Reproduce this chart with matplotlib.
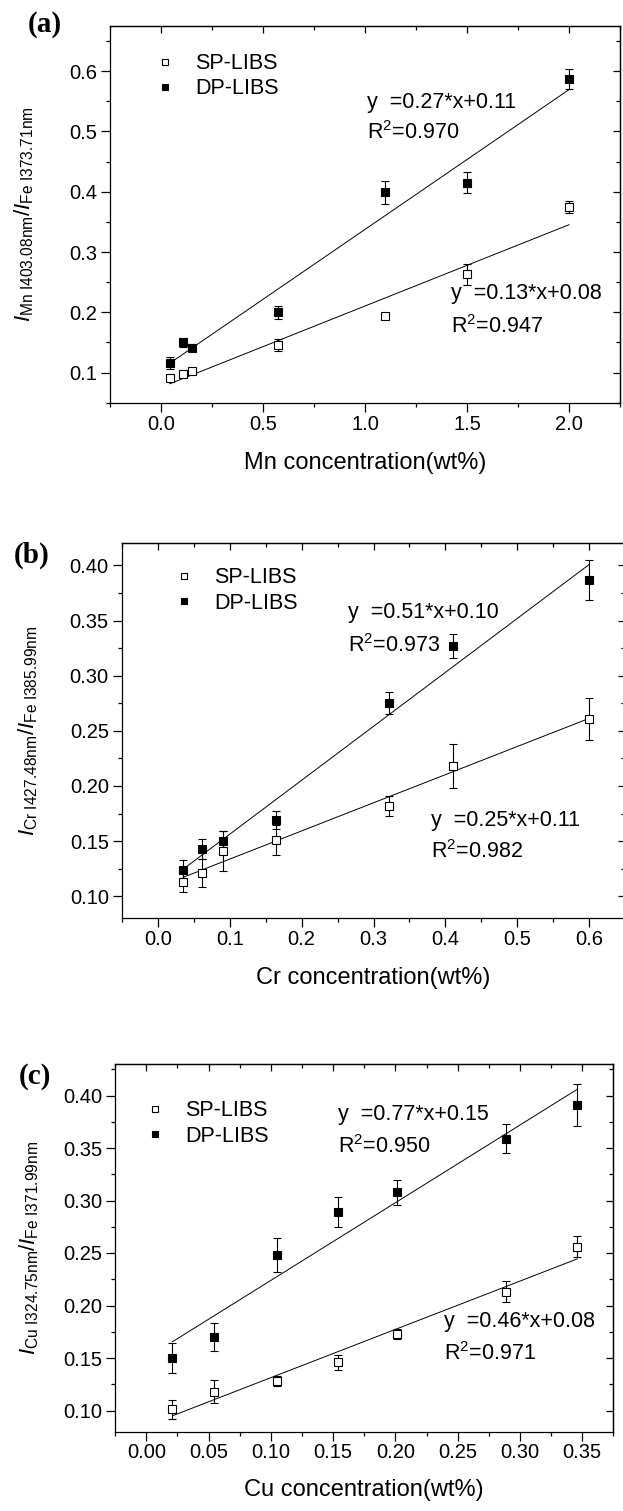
import numpy as np
import matplotlib
matplotlib.use('Agg')
import matplotlib.pyplot as plt
from matplotlib.ticker import MultipleLocator, FormatStrFormatter, NullFormatter

plt.rcParams['font.family'] = ['Liberation Sans', 'DejaVu Sans']
plt.rcParams['mathtext.fontset'] = 'custom'
plt.rcParams['mathtext.rm'] = 'Liberation Sans'
plt.rcParams['mathtext.it'] = 'Liberation Sans:italic'
plt.rcParams['mathtext.bf'] = 'Liberation Sans:bold'
plt.rcParams['axes.linewidth'] = 0.9

# (a) Mn
mn_conc   = [0.043, 0.107, 0.15, 0.572, 1.1, 1.5, 2.0]
mn_sp     = [0.091, 0.097, 0.103, 0.145, 0.194, 0.263, 0.374]
mn_sp_err = [0.005, 0.004, 0.005, 0.010, 0.004, 0.017, 0.010]
mn_dp     = [0.116, 0.150, 0.141, 0.200, 0.399, 0.415, 0.587]
mn_dp_err = [0.010, 0.008, 0.006, 0.011, 0.019, 0.017, 0.016]

# (b) Cr
cr_conc   = [0.035, 0.062, 0.091, 0.164, 0.322, 0.41, 0.6]
cr_sp     = [0.113, 0.121, 0.141, 0.151, 0.182, 0.218, 0.261]
cr_sp_err = [0.009, 0.013, 0.018, 0.014, 0.009, 0.020, 0.019]
cr_dp     = [0.124, 0.143, 0.150, 0.169, 0.275, 0.327, 0.387]
cr_dp_err = [0.009, 0.009, 0.009, 0.008, 0.010, 0.011, 0.018]

# (c) Cu
cu_conc   = [0.021, 0.054, 0.105, 0.154, 0.201, 0.289, 0.346]
cu_sp     = [0.101, 0.118, 0.128, 0.146, 0.173, 0.213, 0.256]
cu_sp_err = [0.009, 0.011, 0.005, 0.007, 0.005, 0.010, 0.010]
cu_dp     = [0.150, 0.170, 0.248, 0.289, 0.308, 0.359, 0.391]
cu_dp_err = [0.014, 0.013, 0.016, 0.014, 0.012, 0.014, 0.020]

series_labels = ['SP-LIBS', 'DP-LIBS']


def panel(fig, rect, conc, sp, sp_err, dp, dp_err, xlim, ylim, xmaj, ymaj, xfmt, yfmt,
          xlabel, ylabel, tag, tag_xy, eq_dp, eq_sp, eq_dp_xy, eq_sp_xy, leg_xy, ylab_x):
    ax = fig.add_axes(rect)
    conc = np.array(conc)

    for y, err in [(sp, sp_err), (dp, dp_err)]:
        ax.errorbar(conc, y, yerr=err, fmt='none', ecolor='black', elinewidth=0.8,
                    capsize=3, capthick=0.8, zorder=2)
        k, b = np.polyfit(conc, y, 1)
        xx = np.array([conc.min(), conc.max()])
        ax.plot(xx, k*xx + b, color='black', lw=0.7, zorder=1)

    ax.plot(conc, sp, 's', ms=5.5, mfc='white', mec='black', mew=0.8, label=series_labels[0], zorder=3)
    ax.plot(conc, dp, 's', ms=5.5, mfc='black', mec='black', mew=0.8, label=series_labels[1], zorder=3)

    ax.set_xlim(xlim)
    ax.set_ylim(ylim)
    ax.xaxis.set_major_locator(MultipleLocator(xmaj))
    ax.xaxis.set_minor_locator(MultipleLocator(xmaj/2))
    ax.yaxis.set_major_locator(MultipleLocator(ymaj))
    ax.yaxis.set_minor_locator(MultipleLocator(ymaj/2))
    ax.xaxis.set_major_formatter(FormatStrFormatter(xfmt))
    ax.yaxis.set_major_formatter(FormatStrFormatter(yfmt))
    ax.tick_params(which='major', direction='out', length=6.5, width=0.9, labelsize=14.5)
    ax.tick_params(which='minor', direction='out', length=3, width=0.9)
    ax.tick_params(axis='x', which='major', pad=2)
    ax.tick_params(axis='y', which='major', pad=3)

    # origin style: inward ticks on top and right, no labels
    top = ax.secondary_xaxis('top')
    top.xaxis.set_major_locator(MultipleLocator(xmaj))
    top.xaxis.set_minor_locator(MultipleLocator(xmaj/2))
    top.xaxis.set_major_formatter(NullFormatter())
    top.tick_params(which='major', direction='in', length=5, width=0.9)
    top.tick_params(which='minor', direction='in', length=3, width=0.9)
    right = ax.secondary_yaxis('right')
    right.yaxis.set_major_locator(MultipleLocator(ymaj))
    right.yaxis.set_minor_locator(MultipleLocator(ymaj/2))
    right.yaxis.set_major_formatter(NullFormatter())
    right.tick_params(which='major', direction='in', length=5, width=0.9)
    right.tick_params(which='minor', direction='in', length=3, width=0.9)

    ax.set_xlabel(xlabel, fontsize=17)
    ax.xaxis.set_label_coords(0.5, -0.13)
    ax.set_ylabel(ylabel, fontsize=16)
    ax.yaxis.set_label_coords(ylab_x, 0.5)

    ax.legend(loc='upper left', bbox_to_anchor=leg_xy, frameon=False, fontsize=15.5,
              borderpad=0, borderaxespad=0, handlelength=1.0, handletextpad=0.9,
              labelspacing=0.2, markerscale=0.85)

    ax.text(eq_dp_xy[0], eq_dp_xy[1], eq_dp[0], transform=ax.transAxes, fontsize=15.5, va='baseline')
    ax.text(eq_dp_xy[0], eq_dp_xy[2], eq_dp[1], transform=ax.transAxes, fontsize=15.5, va='baseline')
    ax.text(eq_sp_xy[0], eq_sp_xy[1], eq_sp[0], transform=ax.transAxes, fontsize=15.5, va='baseline')
    ax.text(eq_sp_xy[0], eq_sp_xy[2], eq_sp[1], transform=ax.transAxes, fontsize=15.5, va='baseline')

    fig.text(tag_xy[0], tag_xy[1], tag, fontsize=21, fontweight='bold',
             family=['Liberation Serif', 'DejaVu Serif'], ha='center', va='center')
    return ax


W, H = 623, 1511
fig = plt.figure(figsize=(W/100, H/100), dpi=100)

panel(fig, [110/W, 1-402.7/H, 510/W, 376.7/H],
      mn_conc, mn_sp, mn_sp_err, mn_dp, mn_dp_err,
      (-0.25, 2.25), (0.05, 0.675), 0.5, 0.1, '%.1f', '%.1f',
      'Mn concentration(wt%)',
      r'$I_{\mathrm{Mn\ I403.08nm}}/I_{\mathrm{Fe\ I373.71nm}}$',
      '(a)', (45/W, 1-25/H),
      ['y  =0.27*x+0.11', r'R$^2$=0.970'], ['y  =0.13*x+0.08', r'R$^2$=0.947'],
      (0.503, 0.7815, 0.700), (0.669, 0.275, 0.186), (0.0868, 0.928), -0.145)

panel(fig, [122/W, 1-918.3/H, 503/W, 375/H],
      cr_conc, cr_sp, cr_sp_err, cr_dp, cr_dp_err,
      (-0.05, 0.65), (0.08, 0.42), 0.1, 0.05, '%.1f', '%.2f',
      'Cr concentration(wt%)',
      r'$I_{\mathrm{Cr\ I427.48nm}}/I_{\mathrm{Fe\ I385.99nm}}$',
      '(b)', (32/W, 1-555/H),
      ['y  =0.51*x+0.10', r'R$^2$=0.973'], ['y  =0.25*x+0.11', r'R$^2$=0.982'],
      (0.4485, 0.802, 0.709), (0.614, 0.2467, 0.160), (0.102, 0.936), -0.163)

panel(fig, [115.2/W, 1-1431.5/H, 498.1/W, 367.5/H],
      cu_conc, cu_sp, cu_sp_err, cu_dp, cu_dp_err,
      (-0.025, 0.375), (0.08, 0.43), 0.05, 0.05, '%.2f', '%.2f',
      'Cu concentration(wt%)',
      r'$I_{\mathrm{Cu\ I324.75nm}}/I_{\mathrm{Fe\ I371.99nm}}$',
      '(c)', (35/W, 1-1076/H),
      ['y  =0.77*x+0.15', r'R$^2$=0.950'], ['y  =0.46*x+0.08', r'R$^2$=0.971'],
      (0.4467, 0.848, 0.759), (0.66, 0.283, 0.194), (0.0584, 0.901), -0.148)

fig.savefig('out.png', dpi=100)
